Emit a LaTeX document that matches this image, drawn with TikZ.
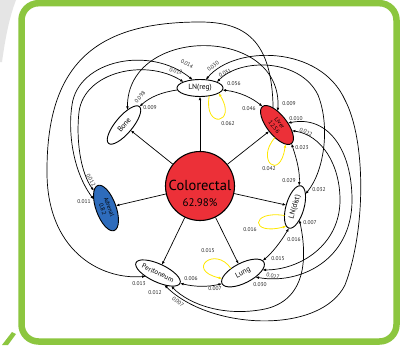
\documentclass[tikz,border=0pt]{standalone}
\usepackage{fontspec}
\setmainfont{PT Sans}
\usetikzlibrary{arrows.meta,shapes.geometric}
\definecolor{crred}{RGB}{236,48,56}
\definecolor{adrblue}{RGB}{46,108,188}
\definecolor{loopyel}{RGB}{255,232,0}
\definecolor{frameg}{RGB}{140,198,63}
\begin{document}
\begin{tikzpicture}[x=1pt,y=-1pt,
  ell/.style={ellipse, draw, line width=0.9pt, inner sep=0pt, outer sep=0pt, fill=white, font=\fontsize{7.5}{8}\selectfont},
  lab/.style={font=\fontsize{5.5}{6}\selectfont, inner sep=0pt, text=black!85},
  arr/.style={line width=0.7pt, -{Latex[length=3.6pt,width=2.7pt]}},
  biarr/.style={line width=0.7pt, {Latex[length=3.6pt,width=2.7pt]}-{Latex[length=3.6pt,width=2.7pt]}},
  selfloop/.style={draw=loopyel, line width=0.8pt, -{Latex[length=3.6pt,width=2.7pt]}}]
\useasboundingbox (0,0) rectangle (403,345);
\fill[white] (0,0) rectangle (403,345);
\fill[black!10] (0,0) -- (16,0) .. controls (9,18) and (5,40) .. (2,62) -- (0,62) -- cycle;
\fill[frameg] (2,345) -- (8,345) -- (16,334) -- (12,332) -- cycle;
\draw[frameg, line width=6.5pt, rounded corners=17pt] (21.5,3.2) rectangle (396.5,341.5);

% nodes
\node[circle, draw, line width=1.1pt, fill=crred, minimum size=69pt, inner sep=0pt] (cr) at (200,186) {};
\node[font=\fontsize{14.5}{15}\selectfont, inner sep=0pt] (crt) at (200,185) {Colorectal};
\node[font=\fontsize{11}{12}\selectfont, inner sep=0pt] (crp) at (200,203) {62.98\%};
\node[ell, minimum width=46pt, minimum height=17pt] (lnr) at (200,88) {LN(reg)};
\node[ell, rotate=50, minimum width=48pt, minimum height=17pt] (bone) at (124,125) {Bone};
\node[ell, fill=crred, rotate=-52, minimum width=47pt, minimum height=20pt, align=center, font=\fontsize{6}{7}\selectfont] (liver) at (277,125) {Liver\\12.56};
\node[ell, fill=adrblue, rotate=-70, minimum width=48pt, minimum height=20pt, align=center, font=\fontsize{6}{7}\selectfont] (adr) at (106,208) {Adrenal\\0.82};
\node[ell, rotate=74, minimum width=44pt, minimum height=18pt] (lnd) at (295,207) {LN(dist)};
\node[ell, rotate=27, minimum width=47pt, minimum height=20pt] (lung) at (243,273) {Lung};
\node[ell, rotate=-25, minimum width=47pt, minimum height=18pt, font=\fontsize{7}{7}\selectfont] (per) at (158,273) {Peritoneum};

% from colorectal
\draw[arr] (cr) -- (lnr);
\draw[arr] (cr) -- (bone);
\draw[arr] (cr) -- (liver);
\draw[arr] (cr) -- (adr);
\draw[arr] (cr) -- (lnd);
\draw[arr] (cr) -- (lung);
\draw[arr] (cr) -- (per);

% short links
\draw[arr] (lnr.185) .. controls (162,92) and (150,97) .. (bone.0);
\draw[biarr] (lnr.-5) .. controls (240,92) and (252,98) .. (liver.180);
\draw[biarr] (liver.0) .. controls (297,160) and (300,172) .. (lnd.5);
\draw[biarr] (lnd.180) .. controls (280,243) and (272,253) .. (lung.5);
\draw[biarr] (per.0) .. controls (195,287) and (208,287) .. (lung.180);

% long arcs
\draw[biarr] (bone.27) .. controls (127,25) and (283,25) .. (liver.139);
\draw[arr] (liver.155) .. controls (272,40) and (245,22) .. (200,22)
   .. controls (100,22) and (47,60) .. (47,170)
   .. controls (46,250) and (100,280) .. (per.220);
\draw[biarr] (adr.215) .. controls (72,170) and (68,130) .. (72,105)
   .. controls (78,60) and (150,45) .. (lnr.132);
\draw[biarr] (adr.195) .. controls (80,172) and (76,138) .. (79,112)
   .. controls (84,72) and (145,58) .. (lnr.160);
\draw[biarr] (lnr.19) .. controls (240,58) and (300,58) .. (318,95)
   .. controls (330,125) and (325,170) .. (lnd.-23);
\draw[biarr] (lnr.55) .. controls (235,45) and (320,45) .. (345,100)
   .. controls (366,140) and (366,230) .. (345,285)
   .. controls (320,335) and (210,330) .. (per.-37);
\draw[biarr] (lnd.215) .. controls (308,260) and (305,300) .. (265,309)
   .. controls (225,317) and (190,305) .. (per.-20);
\draw[biarr] (liver.62) .. controls (328,115) and (352,150) .. (352,200)
   .. controls (352,260) and (300,285) .. (lung.-45);
\draw[biarr] (liver.31) .. controls (322,135) and (340,165) .. (340,200)
   .. controls (340,245) and (300,270) .. (lung.-18);

% self loops
\draw[selfloop] (lnr.-40) .. controls (203,130) and (238,124) .. (lnr.-15);
\draw[selfloop] (liver.-47) .. controls (255,160) and (280,182) .. (liver.-14);
\draw[selfloop] (lnd.145) .. controls (250,210) and (250,236) .. (lnd.172);
\draw[selfloop] (lung.133) .. controls (215,245) and (185,270) .. (lung.168);

% labels
\node[lab, rotate=-30] (l014) at (187,64) {0.014};
\node[lab, rotate=-15] (l012a) at (176,71) {0.012};
\node[lab, rotate=38] (l030a) at (213,66) {0.030};
\node[lab, rotate=28] (l031) at (225,73) {0.031};
\node[lab] (l056) at (234,84) {0.056};
\node[lab] (l062) at (228,124) {0.062};
\node[lab, rotate=50] (l098) at (140,97) {0.098};
\node[lab] (l009a) at (150,108) {0.009};
\node[lab] (l046) at (249,109) {0.046};
\node[lab] (l009b) at (289,104) {0.009};
\node[lab] (l010) at (296,119) {0.010};
\node[lab, rotate=-22] (l022) at (306,132) {0.022};
\node[lab] (l023) at (302,148) {0.023};
\node[lab] (l042) at (269,169) {0.042};
\node[lab] (l029) at (289,181) {0.029};
\node[lab] (l032) at (319,190) {0.032};
\node[lab] (l007a) at (310,223) {0.007};
\node[lab] (l016a) at (250,230) {0.016};
\node[lab] (l016b) at (294,240) {0.016};
\node[lab] (l015a) at (278,259) {0.015};
\node[lab, rotate=-12] (l027) at (273,276) {0.027};
\node[lab] (l030b) at (260,285) {0.030};
\node[lab] (l015b) at (208,251) {0.015};
\node[lab] (l007b) at (215,289) {0.007};
\node[lab] (l006) at (191,279) {0.006};
\node[lab] (l013) at (139,284) {0.013};
\node[lab] (l012b) at (155,293) {0.012};
\node[lab, rotate=-40] (l007c) at (178,302) {0.007};
\node[lab, rotate=-60] (l012c) at (91,180) {0.012};
\node[lab] (l011) at (84,202) {0.011};
\end{tikzpicture}
\end{document}
